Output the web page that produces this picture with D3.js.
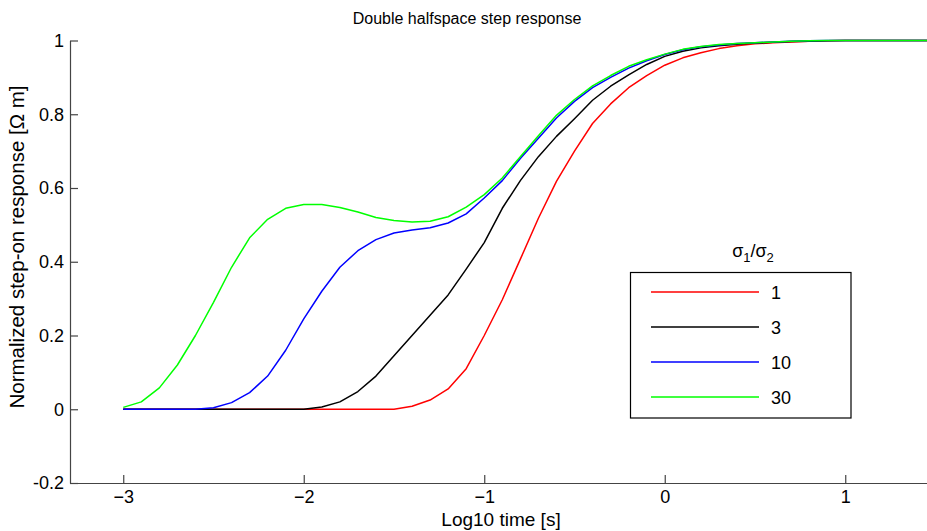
<!DOCTYPE html>
<html><head><meta charset="utf-8">
<script src="https://cdn.jsdelivr.net/npm/d3@7"></script>
<style>
html,body{margin:0;padding:0;background:#fff;}
svg{display:block;}
text{font-family:"Liberation Sans",Arial,sans-serif;fill:#000;}
</style></head>
<body>
<svg id="chart" width="927" height="531"></svg>
<script>
// log10 time samples
const logTime = [-3.0,-2.9,-2.8,-2.7,-2.6,-2.5,-2.4,-2.3,-2.2,-2.1,-2.0,-1.9,-1.8,-1.7,-1.6,-1.5,-1.4,-1.3,-1.2,-1.1,-1.0,-0.9,-0.8,-0.7,-0.6,-0.5,-0.4,-0.3,-0.2,-0.1,0.0,0.1,0.2,0.3,0.4,0.5,0.6,0.7,0.8,0.9,1.0,1.1,1.2,1.3,1.4,1.5];
const ratio1  = [0,0,0,0,0,0,0,0,0,0,0,0,0,0,0,0,0.008,0.025,0.055,0.11,0.20,0.297,0.407,0.518,0.618,0.70,0.775,0.828,0.872,0.905,0.933,0.953,0.967,0.978,0.986,0.991,0.994,0.996,0.998,0.999,1,1,1,1,1,1];
const ratio3  = [0,0,0,0,0,0,0,0,0,0,0,0.006,0.02,0.048,0.09,0.145,0.20,0.255,0.31,0.38,0.452,0.545,0.62,0.685,0.74,0.788,0.838,0.876,0.907,0.935,0.957,0.971,0.98,0.986,0.99,0.993,0.995,0.997,0.998,0.999,1,1,1,1,1,1];
const ratio10 = [0,0,0,0,0,0.004,0.018,0.045,0.09,0.16,0.245,0.32,0.385,0.43,0.46,0.478,0.486,0.492,0.505,0.53,0.573,0.62,0.68,0.735,0.79,0.835,0.872,0.9,0.925,0.945,0.962,0.975,0.983,0.988,0.992,0.994,0.996,0.998,0.999,1,1,1,1,1,1,1];
const ratio30 = [0.005,0.02,0.058,0.12,0.20,0.29,0.385,0.465,0.515,0.545,0.555,0.555,0.547,0.535,0.52,0.512,0.508,0.51,0.522,0.548,0.582,0.627,0.685,0.742,0.797,0.84,0.877,0.905,0.93,0.948,0.963,0.976,0.984,0.989,0.992,0.994,0.996,0.998,0.999,1,1,1,1,1,1,1];
const seriesNames = ["1","3","10","30"];
const seriesColors = ["#ff0000","#000000","#0000ff","#00ff00"];
const xTicks = [-3,-2,-1,0,1];
const yTicks = [-0.2,0,0.2,0.4,0.6,0.8,1];

const allSeries = [ratio1, ratio3, ratio10, ratio30];

const svg = d3.select("#chart");
const mLeft = 70, mTop = 40.5, mBottom = 483;
const x = d3.scaleLinear().domain([-3.295, 1.5]).range([mLeft, mLeft + 180.5*4.795]);
const y = d3.scaleLinear().domain([-0.2, 1]).range([mBottom, mTop]);

const axisColor = "#444";

svg.append("defs").append("clipPath").attr("id","clip")
  .append("rect").attr("x", mLeft).attr("y", 0).attr("width", 927-mLeft).attr("height", mBottom);

const gx = svg.append("g").attr("transform", `translate(0,${mBottom})`)
  .call(d3.axisBottom(x).tickValues(xTicks).tickFormat(d3.format("d")).tickSizeInner(-8).tickSizeOuter(0).tickPadding(7));
const gy = svg.append("g").attr("transform", `translate(${mLeft},0)`)
  .call(d3.axisLeft(y).tickValues(yTicks).tickFormat(d => String(d)).tickSizeInner(-8).tickSizeOuter(0).tickPadding(6));
[gx, gy].forEach(g => {
  g.select(".domain").attr("stroke", axisColor).attr("stroke-width", 1.2);
  g.selectAll(".tick line").attr("stroke", axisColor).attr("stroke-width", 1.2);
  g.selectAll(".tick text").attr("font-size", 18).attr("fill", "#000")
    .style("font-family", '"Liberation Sans",Arial,sans-serif');
});

const line = d3.line().x((d,i) => x(logTime[i])).y(d => y(d));
const plot = svg.append("g").attr("clip-path","url(#clip)");
allSeries.forEach((s, k) => {
  plot.append("path").datum(s).attr("d", line).attr("fill","none")
    .attr("stroke", seriesColors[k]).attr("stroke-width", 1.5).attr("stroke-linejoin","round");
});

svg.append("text").attr("x", 467).attr("y", 24).attr("text-anchor","middle").attr("font-size", 16)
  .text("Double halfspace step response");
svg.append("text").attr("x", 501).attr("y", 526).attr("text-anchor","middle").attr("font-size", 19)
  .text("Log10 time [s]");
svg.append("text").attr("transform","translate(24,247) rotate(-90)").attr("text-anchor","middle").attr("font-size", 20.5)
  .text("Normalized step-on response [Ω m]");

const lgX = 630.5, lgY = 272.5, lgW = 220.5, lgH = 145.5;
const legTitle = svg.append("text").attr("x", 753).attr("y", 257).attr("text-anchor","middle").attr("font-size", 18);
legTitle.append("tspan").text("σ");
legTitle.append("tspan").attr("font-size", 13).attr("dy", 5).text("1");
legTitle.append("tspan").attr("dy", -5).text("/σ");
legTitle.append("tspan").attr("font-size", 13).attr("dy", 5).text("2");

svg.append("rect").attr("x", lgX).attr("y", lgY).attr("width", lgW).attr("height", lgH)
  .attr("fill","#fff").attr("stroke","#000").attr("stroke-width",1.2);
const legY = d3.scalePoint().domain(seriesNames).range([292, 397]);
seriesNames.forEach((n, k) => {
  svg.append("line").attr("x1", 651).attr("x2", 759).attr("y1", legY(n)).attr("y2", legY(n))
    .attr("stroke", seriesColors[k]).attr("stroke-width", 1.5);
  svg.append("text").attr("x", 771).attr("y", legY(n) + 6.5).attr("font-size", 18).text(n);
});
</script>
</body></html>
